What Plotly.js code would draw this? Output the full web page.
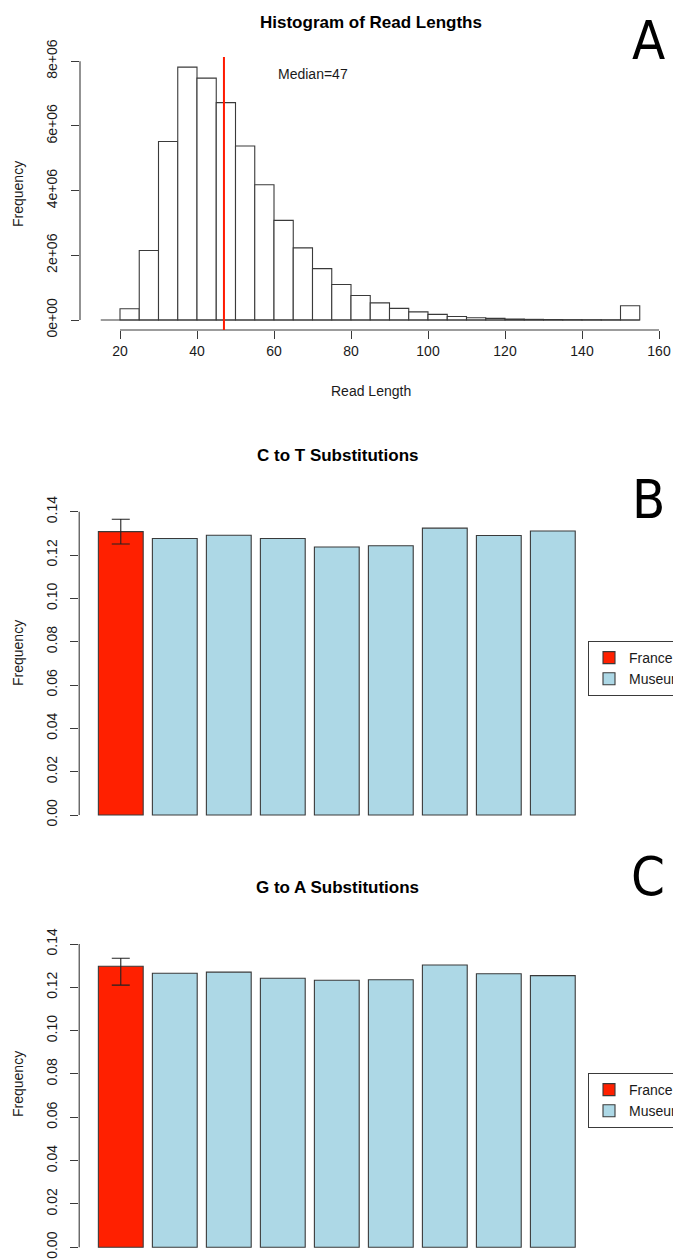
<!DOCTYPE html>
<html>
<head>
<meta charset="utf-8">
<script src="https://cdn.plot.ly/plotly-3.0.1.min.js"></script>
<style>
  html, body { margin: 0; padding: 0; background: #fff; overflow: hidden; }
  #chart { width: 673px; height: 1260px; }
</style>
</head>
<body>
<div id="chart"></div>
<script>
// ---- Panel A: read length histogram (5 bp bins) ----
const binStart = [20, 25, 30, 35, 40, 45, 50, 55, 60, 65, 70, 75, 80, 85, 90,
                  95, 100, 105, 110, 115, 120, 125, 130, 135, 140, 145, 150];
const readCounts = [0.35e6, 2.15e6, 5.52e6, 7.82e6, 7.48e6, 6.72e6, 5.38e6, 4.18e6,
                    3.08e6, 2.23e6, 1.59e6, 1.10e6, 0.76e6, 0.53e6, 0.36e6, 0.25e6,
                    0.175e6, 0.11e6, 0.07e6, 0.05e6, 0.03e6, 0.02e6, 0.015e6,
                    0.01e6, 0.008e6, 0.005e6, 0.44e6];
const binWidth = 5;
const medianLength = 47;
const histXTicks = [20, 40, 60, 80, 100, 120, 140, 160];
const histYTicks = [0, 2e6, 4e6, 6e6, 8e6];
const histYTickLabels = ['0e+00', '2e+06', '4e+06', '6e+06', '8e+06'];

// ---- Panels B and C: substitution frequencies ----
const samples = ['France', 'Museum 1', 'Museum 2', 'Museum 3', 'Museum 4',
                 'Museum 5', 'Museum 6', 'Museum 7', 'Museum 8'];
const ctFrequency = [0.1308, 0.1276, 0.1291, 0.1276, 0.1237, 0.1243, 0.1324, 0.1290, 0.1311];
const ctErrUpper = 0.0057;
const ctErrLower = 0.0057;
const gaFrequency = [0.1297, 0.1265, 0.1270, 0.1242, 0.1233, 0.1235, 0.1303, 0.1263, 0.1254];
const gaErrUpper = 0.0037;
const gaErrLower = 0.0087;
const freqTicks = [0, 0.02, 0.04, 0.06, 0.08, 0.10, 0.12, 0.14];

const FONT = 'Liberation Sans, Arial, Helvetica, sans-serif';
const LETTER_FONT = 'Liberation Sans Narrow, DejaVu Sans Condensed, Liberation Sans, sans-serif';
const TXT = '#1a1a1a';
const LINE = '#3a3a3a';
const FRANCE_RED = '#ff2000';
const MUSEUM_BLUE = '#add8e6';

// figure is laid out in pixels; helpers convert to paper fractions
const W = 673, H = 1260;
const px = v => v / W;
const py = v => 1 - v / H;

const traces = [];

traces.push({
  type: 'bar', x: binStart, y: readCounts, width: binWidth, offset: 0,
  xaxis: 'x', yaxis: 'y', showlegend: false, hoverinfo: 'x+y',
  marker: { color: '#ffffff', line: { color: LINE, width: 1.1 } }
});

function substitutionTraces(values, errUp, errDown, xa, ya, legendId) {
  return [
    {
      type: 'bar', name: 'France', x: [samples[0]], y: [values[0]], width: 0.83,
      xaxis: xa, yaxis: ya, legend: legendId,
      marker: { color: FRANCE_RED, line: { color: LINE, width: 1.1 } },
      error_y: { type: 'data', symmetric: false, array: [errUp], arrayminus: [errDown],
                 color: '#222', thickness: 1.1, width: 9 }
    },
    {
      type: 'bar', name: 'Museum', x: samples.slice(1), y: values.slice(1), width: 0.83,
      xaxis: xa, yaxis: ya, legend: legendId,
      marker: { color: MUSEUM_BLUE, line: { color: LINE, width: 1.1 } }
    }
  ];
}
traces.push(...substitutionTraces(ctFrequency, ctErrUpper, ctErrLower, 'x2', 'y2', 'legend'));
traces.push(...substitutionTraces(gaFrequency, gaErrUpper, gaErrLower, 'x3', 'y3', 'legend2'));

const tickFont = { family: FONT, size: 14, color: TXT };

const freqAxis = (domain, range, xId) => ({
  domain: domain, range: range, tickmode: 'array', tickvals: freqTicks,
  tickformat: '.2f', tickangle: -90, ticks: 'outside', ticklen: 8,
  tickcolor: LINE, tickwidth: 1, showline: false, showgrid: false,
  zeroline: false, tickfont: tickFont, ticklabelstandoff: 8, anchor: xId
});
const catAxis = (domain, yId) => ({
  domain: domain, type: 'category', categoryarray: samples, range: [-0.77, 8.77],
  showticklabels: false, ticks: '', showline: false, showgrid: false,
  zeroline: false, anchor: yId
});

// centred text placed at pixel coordinates
const label = (text, x, y, size, extra) => Object.assign({
  text: text, xref: 'paper', yref: 'paper', x: px(x), y: py(y),
  xanchor: 'center', yanchor: 'middle', showarrow: false,
  font: { family: FONT, size: size, color: TXT }
}, extra || {});
const bold = { color: '#000', weight: 'bold', family: FONT, size: 17 };
const letter = { family: LETTER_FONT, size: 54, color: '#000' };

const legendStyle = (y) => ({
  x: px(588), y: py(y), xanchor: 'left', yanchor: 'top',
  bgcolor: '#ffffff', bordercolor: LINE, borderwidth: 1,
  font: { family: FONT, size: 14, color: TXT }, itemwidth: 30
});

const layout = {
  width: W, height: H,
  margin: { l: 0, r: 0, t: 0, b: 0, autoexpand: false },
  paper_bgcolor: '#ffffff', plot_bgcolor: '#ffffff',
  font: { family: FONT, size: 14, color: TXT },
  barmode: 'overlay',
  showlegend: true,

  xaxis: {
    domain: [px(80), px(660)], range: [20 - 40 / 3.85, 160 + 1 / 3.85],
    tickmode: 'array', tickvals: histXTicks, ticks: 'outside', ticklen: 8,
    tickcolor: LINE, tickwidth: 1, showline: false, showgrid: false, zeroline: false,
    tickfont: tickFont, anchor: 'y'
  },
  yaxis: {
    domain: [py(330), py(57)], range: [-0.309e6, 8.132e6],
    tickmode: 'array', tickvals: histYTicks, ticktext: histYTickLabels,
    tickangle: -90, ticks: 'outside', ticklen: 8, tickcolor: LINE, tickwidth: 1,
    showline: false, showgrid: false, zeroline: false, tickfont: tickFont,
    ticklabelstandoff: 8, anchor: 'x'
  },
  xaxis2: catAxis([px(79.2), px(594.4)], 'y2'),
  yaxis2: freqAxis([py(827), py(500)], [-0.00554, 0.14540], 'x2'),
  xaxis3: catAxis([px(79.2), px(594.4)], 'y3'),
  yaxis3: freqAxis([0, py(932)], [-0.005862, 0.145541], 'x3'),

  legend: legendStyle(641),
  legend2: legendStyle(1073),

  shapes: [
    // histogram axes and baseline
    { type: 'line', xref: 'x', yref: 'y domain', x0: histXTicks[0], x1: histXTicks[histXTicks.length - 1],
      y0: 0, y1: 0, line: { color: LINE, width: 1.1 } },
    { type: 'line', xref: 'x domain', yref: 'y', x0: 0, x1: 0,
      y0: histYTicks[0], y1: histYTicks[histYTicks.length - 1], line: { color: LINE, width: 1.1 } },
    { type: 'line', xref: 'x', yref: 'y', x0: 15, x1: binStart[binStart.length - 1] + binWidth,
      y0: 0, y1: 0, line: { color: LINE, width: 1.1 } },
    // median marker
    { type: 'line', xref: 'x', yref: 'y domain', x0: medianLength, x1: medianLength,
      y0: 0, y1: 1, line: { color: '#ff1a00', width: 2 } },
    // frequency axes
    { type: 'line', xref: 'x2 domain', yref: 'y2', x0: 0, x1: 0,
      y0: freqTicks[0], y1: freqTicks[freqTicks.length - 1], line: { color: LINE, width: 1.1 } },
    { type: 'line', xref: 'x3 domain', yref: 'y3', x0: 0, x1: 0,
      y0: freqTicks[0], y1: freqTicks[freqTicks.length - 1], line: { color: LINE, width: 1.1 } }
  ],

  annotations: [
    label('Histogram of Read Lengths', 371, 22, 17, { font: bold }),
    label('C to T Substitutions', 337, 455, 17, { font: bold }),
    label('G to A Substitutions', 337, 887, 17, { font: bold }),

    { text: 'Median=' + medianLength, xref: 'x', yref: 'y', x: 70, y: 7.6e6,
      xanchor: 'center', yanchor: 'middle', showarrow: false,
      font: { family: FONT, size: 14, color: TXT } },

    label('Read Length', 371, 391, 14),
    label('Frequency', 18, 194, 14, { textangle: -90 }),
    label('Frequency', 18, 653, 14, { textangle: -90 }),
    label('Frequency', 18, 1084, 14, { textangle: -90 }),

    // panel letters
    label('A', 648, 41, 54, { font: letter }),
    label('B', 648, 500, 54, { font: letter }),
    label('C', 648, 876, 54, { font: letter })
  ]
};

Plotly.newPlot('chart', traces, layout, { staticPlot: true, displayModeBar: false });
</script>
</body>
</html>
